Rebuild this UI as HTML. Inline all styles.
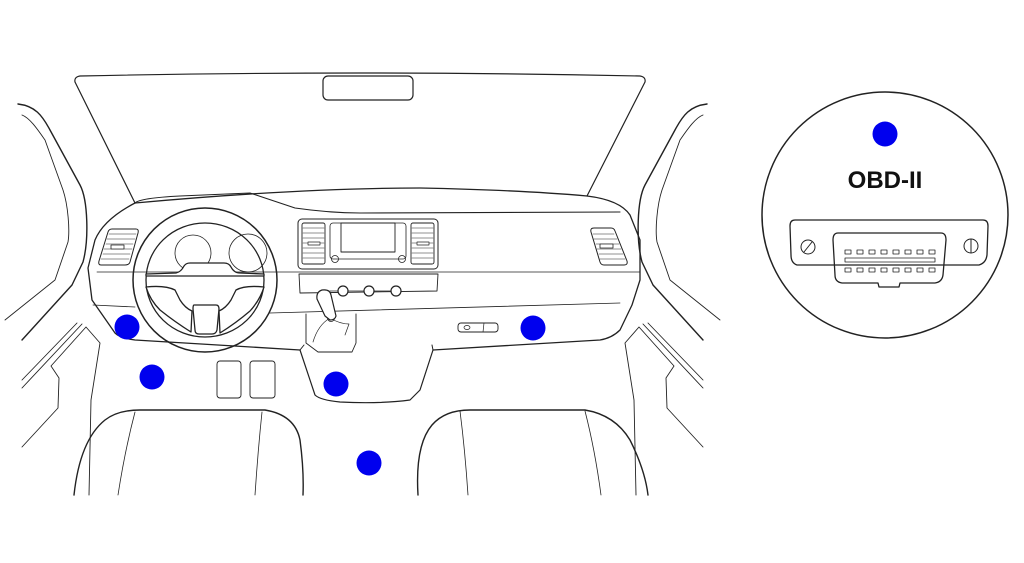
<!DOCTYPE html>
<html><head><meta charset="utf-8"><style>
html,body{margin:0;padding:0;background:#fff;width:1024px;height:563px;overflow:hidden}
svg{display:block}
text{font-family:"Liberation Sans",Arial,sans-serif}
</style></head><body>
<svg width="1024" height="563" viewBox="0 0 1024 563" fill="none" stroke="#222" stroke-linecap="round" stroke-linejoin="round">
<path d="M135,203 L75,82 Q74,77 80,76 Q360,70 640,76 Q646,77 645,82 L587,196" stroke-width="1.2"/>
<rect x="323" y="76" width="90" height="24" rx="5" stroke-width="1.2"/>
<g id="lp">
<path d="M18,104 C35,106 42,115 50,130 L80,185 C88,200 89,240 83,262 L72,285 L22,340" stroke-width="1.4"/>
<path d="M22,115 C30,118 38,130 45,140 L63,190 C68,205 70,230 68,242 L55,280 L5,320" stroke-width="0.9"/>
<path d="M22,388 L82,324" stroke-width="0.9"/>
<path d="M22,447 L58,408 L59,378 L51,366 L86,327 L100,343 L91,400 L89,495" stroke-width="0.9"/>
<path d="M22,380 L77,323" stroke-width="0.9"/>
</g>
<use href="#lp" transform="translate(725,0) scale(-1,1)"/>
<path d="M135,203 C112,215 100,228 95,240 L88,268 L92,300 L115,333 Q120,338 135,340 L300,350" stroke-width="1.3"/>
<path d="M135,203 Q140,198 180,196 L250,193 L295,208 Q330,213 360,213 L620,212" stroke-width="1.1"/>
<path d="M135,203 Q300,188 420,188 Q520,190 587,196 Q620,200 630,215 L640,240 L640,280 L632,305 L620,330 Q612,338 600,340 L433,350" stroke-width="1.3"/>
<path d="M97,272 L640,272" stroke-width="0.8"/>
<path d="M93,305 L135,307" stroke-width="0.8"/>
<path d="M270,313 L620,303" stroke-width="0.8"/>
<path d="M112,229 L136,229 Q139,229 138,233 L130,262 Q129,265 125,265 L101,265 Q98,265 99,261 L108,232 Q109,229 112,229Z" stroke-width="1"/>
<g stroke-width="0.6"><path d="M109,234 L136,234 M107,239 L135,239 M106,244 L133,244 M104,249 L132,249 M103,254 L130,254 M101,259 L129,259"/></g>
<rect x="111" y="245" width="13" height="4" stroke-width="0.8" fill="#fff"/>
<path d="M594,228 L611,228 Q614,228 615,231 L627,261 Q628,265 624,265 L604,265 Q601,265 600,262 L591,232 Q590,228 594,228Z" stroke-width="1"/>
<g stroke-width="0.6"><path d="M593,234 L614,234 M594,239 L617,239 M596,244 L619,244 M597,249 L621,249 M599,254 L623,254 M600,259 L625,259"/></g>
<rect x="600" y="244" width="13" height="4" stroke-width="0.8" fill="#fff"/>
<circle cx="205" cy="280" r="72" stroke-width="1.5"/>
<ellipse cx="205" cy="280" rx="59" ry="57" stroke-width="1.3"/>
<circle cx="193" cy="253" r="18" stroke-width="0.8"/>
<circle cx="248" cy="253" r="19" stroke-width="0.8"/>
<path d="M146,274 L176,273 Q181,272 184,266 Q186,263 190,263 L224,263 Q229,263 231,267 Q234,273 240,273 L264,274 L264,276 L146,276 Z" stroke-width="1.3" fill="#fff"/>
<path d="M146,287 Q165,285 175,290 L180,300 Q185,308 192,311 L191,332 Q175,322 160,310 Q150,300 146,287Z" stroke-width="1.3" fill="#fff"/>
<path d="M264,287 Q245,285 236,290 L231,300 Q226,308 219,311 L220,333 Q236,323 250,311 Q260,300 264,287Z" stroke-width="1.3" fill="#fff"/>
<path d="M194,305 L216,305 Q219,305 219,309 L217,330 Q216,334 212,334 L199,334 Q195,334 195,330 L193,309 Q193,305 194,305Z" stroke-width="1.3" fill="#fff"/>
<rect x="298" y="219" width="140" height="50" rx="4" stroke-width="1"/>
<rect x="302" y="223" width="23" height="41" rx="2" stroke-width="0.9"/>
<rect x="411" y="223" width="23" height="41" rx="2" stroke-width="0.9"/>
<g stroke-width="0.6"><path d="M303,228 L324,228 M303,233 L324,233 M303,238 L324,238 M303,243 L324,243 M303,248 L324,248 M303,253 L324,253 M303,258 L324,258 M412,228 L433,228 M412,233 L433,233 M412,238 L433,238 M412,243 L433,243 M412,248 L433,248 M412,253 L433,253 M412,258 L433,258"/></g>
<rect x="308" y="242" width="12" height="3" fill="#fff" stroke-width="0.7"/>
<rect x="417" y="242" width="12" height="3" fill="#fff" stroke-width="0.7"/>
<rect x="330" y="223" width="76" height="36" rx="3" stroke-width="0.8"/>
<rect x="341" y="223" width="54" height="29" stroke-width="0.9"/>
<circle cx="335" cy="259" r="3.5" stroke-width="0.8"/>
<circle cx="402" cy="259" r="3.5" stroke-width="0.8"/>
<path d="M299,274 L438,274 L437,291 L300,293 Z" stroke-width="0.9"/>
<path d="M330,291 L400,291" stroke-width="0.8"/>
<circle cx="343" cy="291" r="5" stroke-width="1.2" fill="#fff"/>
<circle cx="369" cy="291" r="5" stroke-width="1.2" fill="#fff"/>
<circle cx="396" cy="291" r="5" stroke-width="1.2" fill="#fff"/>
<path d="M306,314 L306,343 L318,352 L352,352 L356,343 L356,314" stroke-width="0.9"/>
<path d="M313,342 Q318,325 330,318 Q340,324 349,324 L345,335" stroke-width="0.7"/>
<circle cx="331" cy="318" r="3.5" stroke-width="0.8"/>
<path d="M317,299 Q316,292 322,290 Q330,289 331,295 L336,316 Q335,320 330,320 L325,316 Z" stroke-width="1.2" fill="#fff"/>
<path d="M300,350 L315,395 Q320,400 340,402 Q380,404 410,400 L420,390 L433,350" stroke-width="1.2"/>
<path d="M304,345 L300,350 M433,350 L432,345" stroke-width="1"/>
<rect x="217" y="361" width="24" height="37" rx="3" stroke-width="0.9"/>
<rect x="250" y="361" width="25" height="37" rx="3" stroke-width="0.9"/>
<rect x="458" y="323" width="40" height="9" rx="3" stroke-width="0.9"/>
<ellipse cx="467" cy="327.5" rx="3" ry="2" stroke-width="0.7"/>
<path d="M484,323 L483,332" stroke-width="0.7"/>
<path d="M74,495 Q80,440 105,420 Q118,410 140,410 L265,410 Q295,415 300,440 Q304,470 303,495" stroke-width="1.4"/>
<path d="M135,412 Q125,450 118,495 M262,412 Q258,450 255,495" stroke-width="0.8"/>
<path d="M418,495 Q415,445 432,425 Q445,410 470,410 L585,410 Q615,415 630,440 Q645,470 648,495" stroke-width="1.4"/>
<path d="M460,411 Q465,450 468,495 M585,411 Q595,450 601,495" stroke-width="0.8"/>
<circle cx="885" cy="215" r="123" stroke-width="1.5"/>
<text x="885" y="188" font-size="24" font-weight="bold" text-anchor="middle" fill="#111" stroke="none">OBD-II</text>
<path d="M795,220 L983,220 Q988,220 988,226 L987,255 Q986,263 979,265 L797,265 Q791,263 791,255 L790,226 Q790,220 795,220Z" stroke-width="1.3"/>
<circle cx="808" cy="247" r="7" stroke-width="1"/>
<path d="M804,252 L812,242" stroke-width="1"/>
<circle cx="971" cy="246" r="7" stroke-width="1"/>
<path d="M971,239 L971,253" stroke-width="1"/>
<path d="M838,233 L941,233 Q946,233 946,240 L943,275 Q942,282 935,283 L900,283 L899,287 L879,287 L878,283 L842,283 Q835,282 835,275 L833,240 Q833,233 838,233Z" stroke-width="1.3"/>
<g stroke-width="0.8">
<rect x="845" y="250" width="6" height="4"/><rect x="857" y="250" width="6" height="4"/><rect x="869" y="250" width="6" height="4"/><rect x="881" y="250" width="6" height="4"/><rect x="893" y="250" width="6" height="4"/><rect x="905" y="250" width="6" height="4"/><rect x="917" y="250" width="6" height="4"/><rect x="929" y="250" width="6" height="4"/>
<rect x="845" y="268" width="6" height="4"/><rect x="857" y="268" width="6" height="4"/><rect x="869" y="268" width="6" height="4"/><rect x="881" y="268" width="6" height="4"/><rect x="893" y="268" width="6" height="4"/><rect x="905" y="268" width="6" height="4"/><rect x="917" y="268" width="6" height="4"/><rect x="929" y="268" width="6" height="4"/>
<rect x="845" y="258" width="90" height="4"/>
</g>
<g fill="#0000ee" stroke="none">
<circle cx="127" cy="327" r="12.5"/>
<circle cx="152" cy="377" r="12.5"/>
<circle cx="336" cy="384" r="12.5"/>
<circle cx="369" cy="463" r="12.5"/>
<circle cx="533" cy="328" r="12.5"/>
<circle cx="885" cy="134" r="12.5"/>
</g>
</svg>
</body></html>
